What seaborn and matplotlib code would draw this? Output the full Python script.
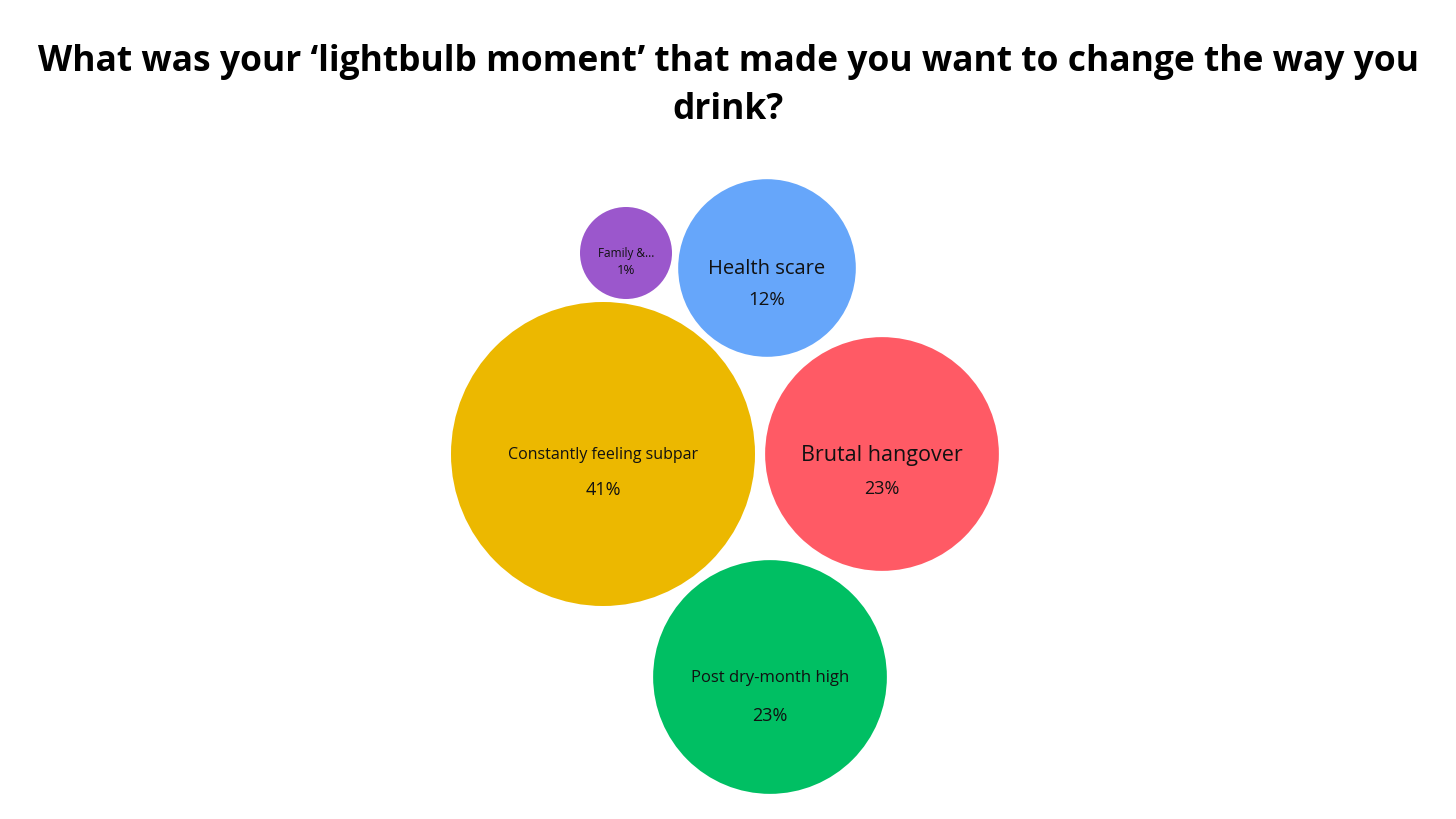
import matplotlib
matplotlib.use('Agg')
import matplotlib.pyplot as plt
import seaborn as sns
import pandas as pd

# dados
categorias = ['Family & friends', 'Health scare', 'Constantly feeling subpar',
              'Brutal hangover', 'Post dry-month high']
rotulos = ['Family &...', 'Health scare', 'Constantly feeling subpar',
           'Brutal hangover', 'Post dry-month high']
percentuais = [1, 12, 41, 23, 23]

# layout das bolhas (coordenadas da figura, em px)
pos_x = [626, 767, 603, 882, 770]
pos_y = [253, 268, 454, 454, 677]

cores = ['#9B57CC', '#66A6FA', '#ECB800', '#FF5A65', '#00BF63']

df = pd.DataFrame({'categoria': categorias, 'rotulo': rotulos,
                   'pct': percentuais, 'x': pos_x, 'y': pos_y})

sns.set_style('white')
plt.rcParams['font.family'] = ['Open Sans', 'DejaVu Sans']

fig = plt.figure(figsize=(14.56, 8.19), dpi=100)
ax = fig.add_axes([0, 0, 1, 1])

# raio em px -> tamanho do marcador (pt^2)
def area(r):
    return (2 * r * 0.72) ** 2

sns.scatterplot(data=df, x='x', y='y', hue='categoria', size='pct',
                sizes=(area(46), area(152)), palette=cores,
                linewidth=0, alpha=1, legend=False, ax=ax)

ax.set_xlim(0, 1456)
ax.set_ylim(819, 0)
ax.axis('off')

# tamanhos de fonte e deslocamentos dos textos
fonte_nome = [8.5, 14.5, 11.5, 15.5, 12]
fonte_pct = [9.5, 13.5, 13, 13, 13]
dy_nome = [0, 1, 1, 1, 1]
dy_pct = [17, 32, 36, 35, 39]
for i, row in df.iterrows():
    ax.text(row['x'], row['y'] + dy_nome[i], row['rotulo'], ha='center', va='center',
            fontsize=fonte_nome[i], color='#111111')
    ax.text(row['x'], row['y'] + dy_pct[i], f"{row['pct']}%", ha='center', va='center',
            fontsize=fonte_pct[i], color='#111111')

fig.text(0.5, 1 - 62 / 819, 'What was your \u2018lightbulb moment\u2019 that made you want to change the way you',
         ha='center', va='center', fontsize=25.5, fontweight='bold', color='black')
fig.text(0.5, 1 - 110 / 819, 'drink?', ha='center', va='center', fontsize=25.5,
         fontweight='bold', color='black')

fig.savefig('out.png', dpi=100, facecolor='white')
